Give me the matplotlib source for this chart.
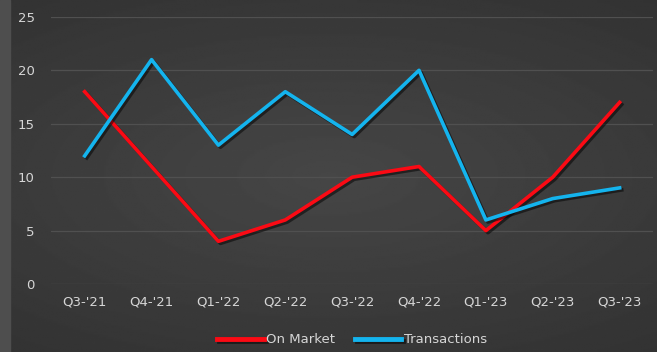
import numpy as np
import matplotlib
matplotlib.use("Agg")
import matplotlib.pyplot as plt
import matplotlib.patheffects as pe

quarters = ["Q3-'21", "Q4-'21", "Q1-'22", "Q2-'22", "Q3-'22",
            "Q4-'22", "Q1-'23", "Q2-'23", "Q3-'23"]
on_market = [18, 11, 4, 6, 10, 11, 5, 10, 17]
transactions = [12, 21, 13, 18, 14, 20, 6, 8, 9]

RED = "#fb0a14"
BLUE = "#14b4ee"
TEXT = "#d6d6d6"

fig = plt.figure(figsize=(6.57, 3.52), dpi=100, facecolor="#3c3c3c")

# background with soft vignette
bg = fig.add_axes([0, 0, 1, 1], zorder=0)
yy, xx = np.mgrid[-1:1:200j, -1:1:400j]
r = np.sqrt((xx * 0.8) ** 2 + (yy * 1.0) ** 2)
bg.imshow(0.275 - 0.06 * r, cmap="gray", vmin=0, vmax=1, aspect="auto",
          extent=[0, 1, 0, 1])
bg.axvspan(0, 10 / 657, color="#4e4e4e")
bg.set_xlim(0, 1)
bg.set_ylim(0, 1)
bg.axis("off")

ax = fig.add_axes([0.078, 0.193, 0.916, 0.759], zorder=1)
ax.patch.set_alpha(0)

x = np.arange(len(quarters))
shadow = [pe.SimpleLineShadow(offset=(1.5, -1.5), alpha=0.5), pe.Normal()]
ax.plot(x, on_market, color=RED, lw=2.6, label="On Market",
        path_effects=shadow, zorder=3)
ax.plot(x, transactions, color=BLUE, lw=2.6, label="Transactions",
        path_effects=shadow, zorder=3)

ax.set_xlim(-0.5, len(quarters) - 0.5)
ax.set_ylim(0, 25)
ax.set_yticks(range(0, 26, 5))
ax.set_xticks(x)
ax.set_xticklabels(quarters)
ax.tick_params(colors=TEXT, length=0, labelsize=9.5)
ax.tick_params(axis="y", pad=12)
ax.tick_params(axis="x", pad=8)
ax.grid(axis="y", color="#505050", lw=0.9)
for s in ax.spines.values():
    s.set_visible(False)

leg = ax.legend(loc="upper center", bbox_to_anchor=(0.5, -0.14), ncol=2,
                frameon=False, fontsize=9.5, handlelength=3.5,
                handletextpad=0.2, columnspacing=1.5)
for line in leg.get_lines():
    line.set_linewidth(3.5)
for t in leg.get_texts():
    t.set_color(TEXT)

fig.savefig("out.png", dpi=100, facecolor=fig.get_facecolor())
